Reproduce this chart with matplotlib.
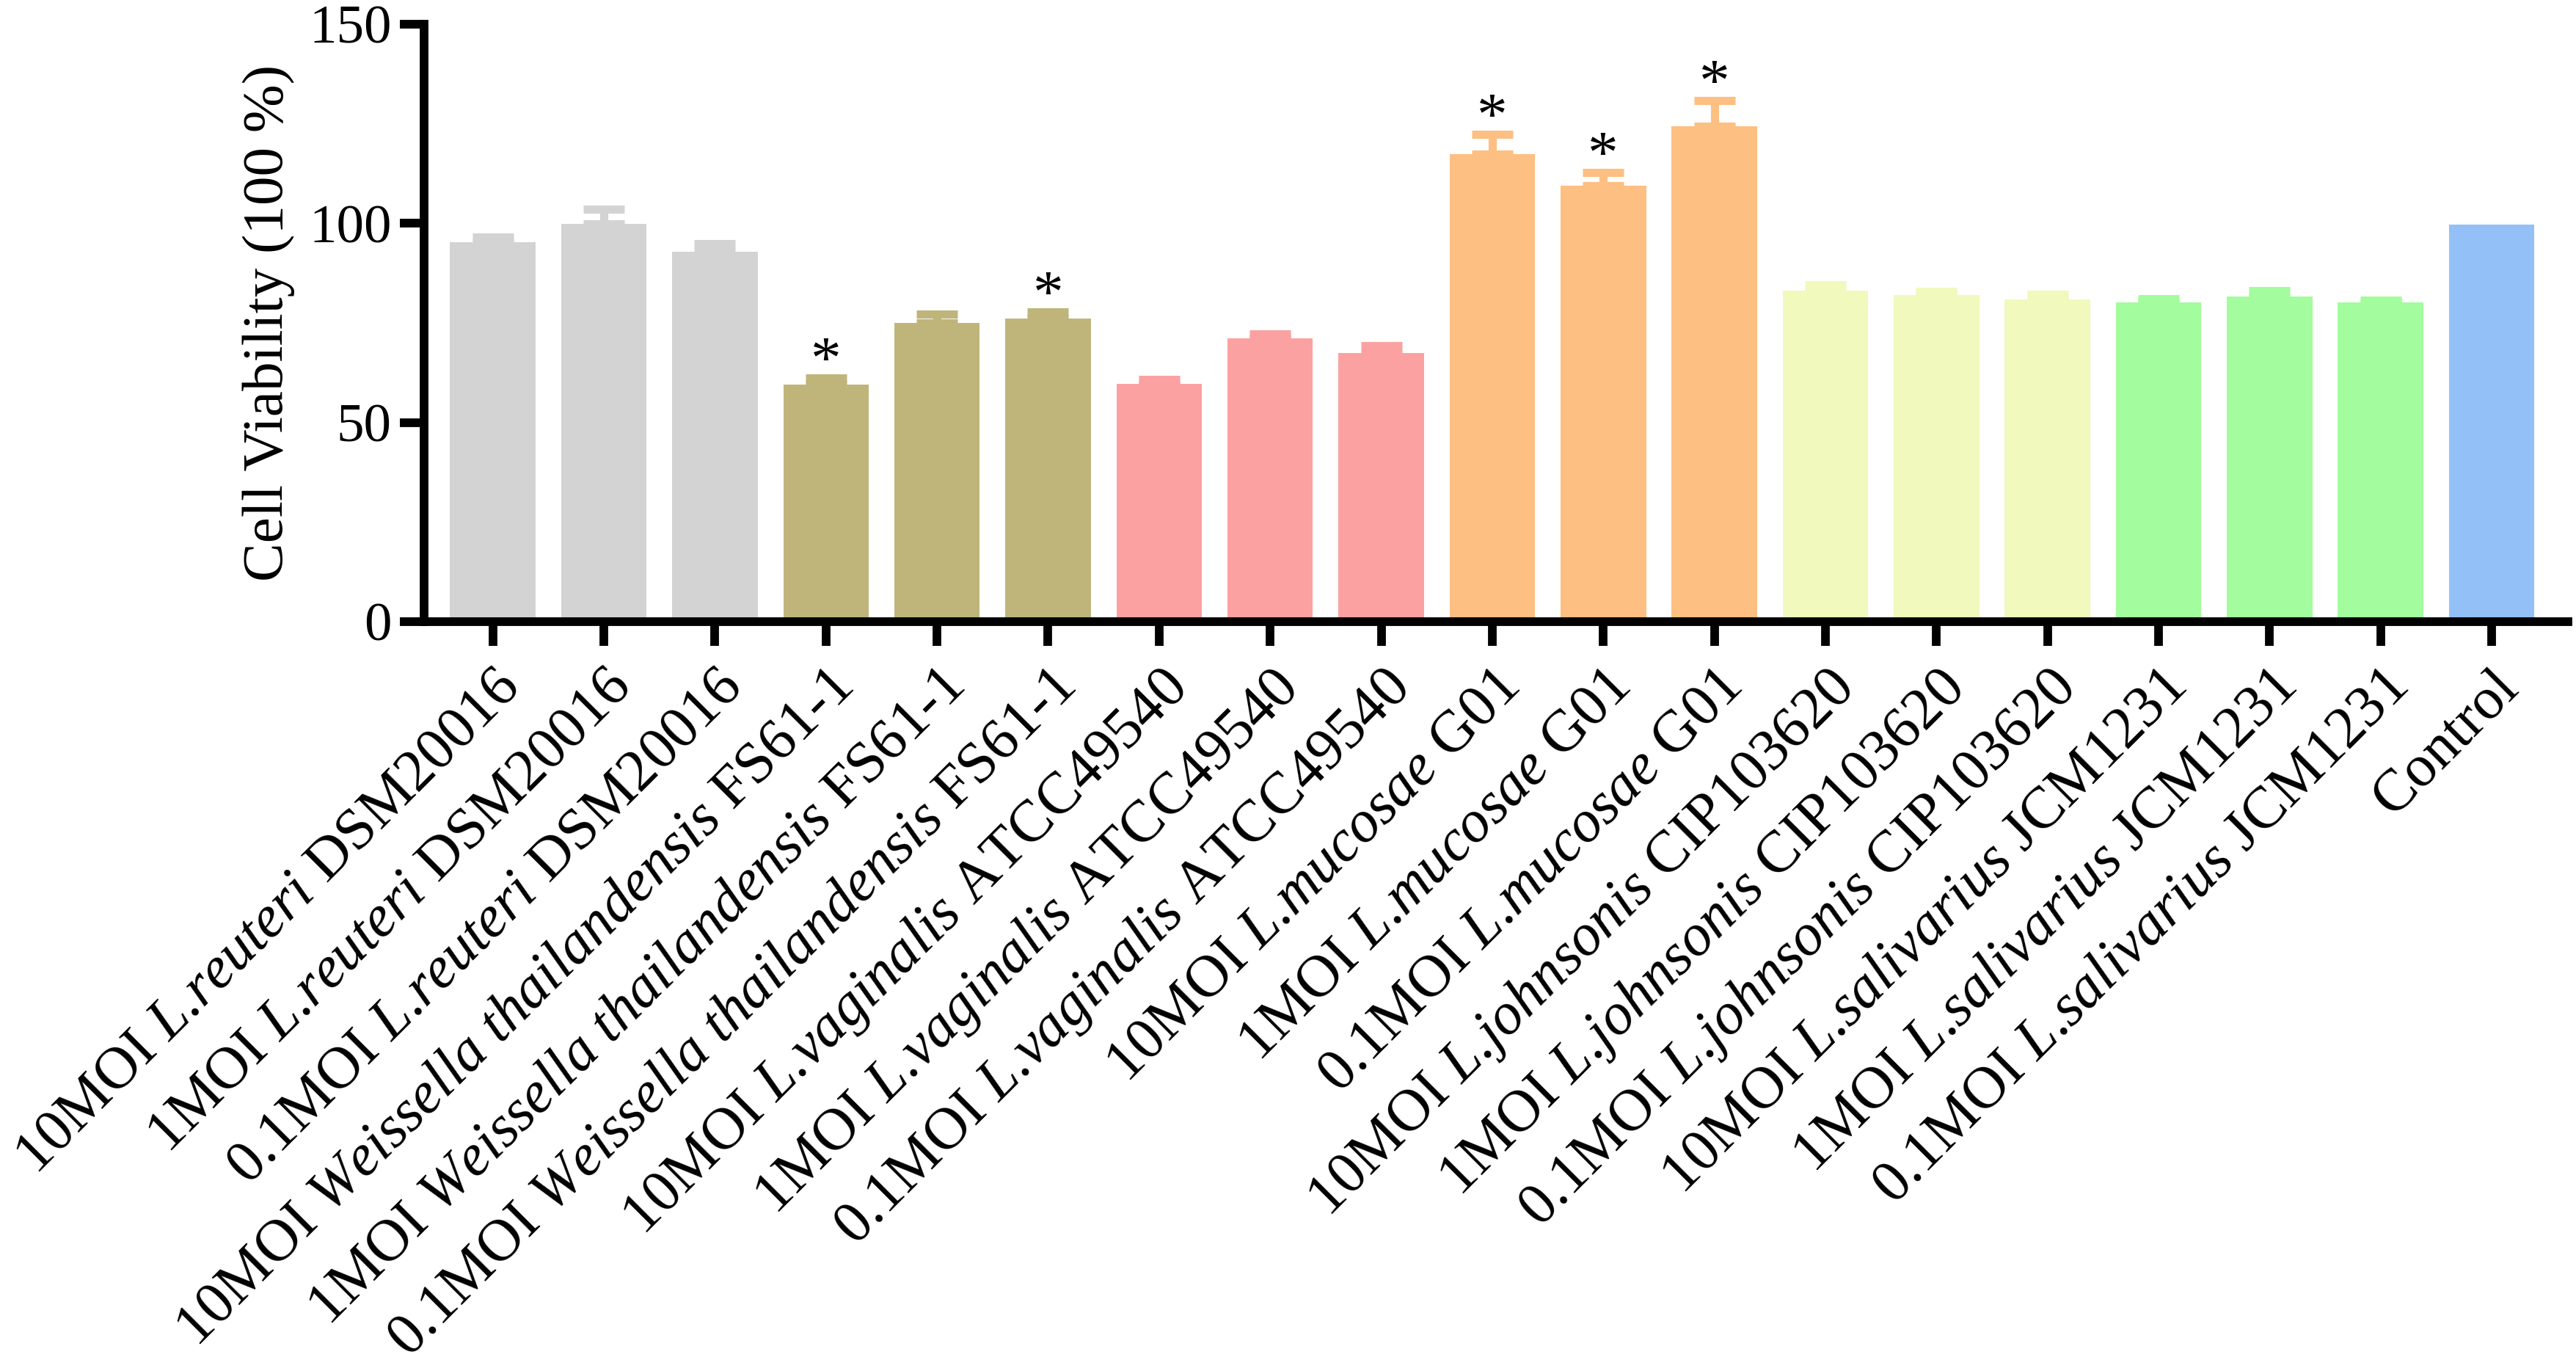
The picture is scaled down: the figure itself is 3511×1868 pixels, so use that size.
import matplotlib
matplotlib.use("Agg")
import matplotlib.pyplot as plt
import numpy as np

plt.rcParams['font.family'] = 'serif'
plt.rcParams['font.serif'] = ['Liberation Serif', 'DejaVu Serif']
plt.rcParams['mathtext.fontset'] = 'custom'
plt.rcParams['mathtext.rm'] = 'Liberation Serif'
plt.rcParams['mathtext.it'] = 'Liberation Serif:italic'

# ---- data ----
doses = ["10MOI", "1MOI", "0.1MOI"] * 6 + [""]
species = (["L.reuteri"] * 3 + ["Weissella thailandensis"] * 3 + ["L.vaginalis"] * 3 +
           ["L.mucosae"] * 3 + ["L.johnsonis"] * 3 + ["L.salivarius"] * 3 + [""])
strains = (["DSM20016"] * 3 + ["FS61-1"] * 3 + ["ATCC49540"] * 3 + ["G01"] * 3 +
           ["CIP103620"] * 3 + ["JCM1231"] * 3 + ["Control"])
values = [95.3, 99.9, 92.8, 59.6, 75.0, 76.1, 59.7, 71.2, 67.4,
          117.4, 109.5, 124.4, 83.1, 82.0, 80.9, 80.1, 81.7, 80.1, 99.7]
errors = [1.2, 3.6, 2.1, 1.6, 2.2, 1.6, 1.1, 1.1, 1.8,
          4.9, 3.3, 6.5, 1.5, 0.9, 1.3, 0.9, 1.4, 0.6, 0.0]
significant = [False, False, False, True, False, True, False, False, False,
               True, True, True, False, False, False, False, False, False, False]
group_colors = ["#D3D3D3", "#BFB57A", "#FCA1A1", "#FDBF82", "#F1F9BD", "#A3FC9D", "#93C1F7"]
group_of_bar = [0, 0, 0, 1, 1, 1, 2, 2, 2, 3, 3, 3, 4, 4, 4, 5, 5, 5, 6]

SERIF = 'Liberation Serif'


def italic(name):
    # italic part without mathtext's extra space after '.'
    parts = name.split(".")
    out = []
    for p in parts:
        out.append(r"$\mathit{" + p.replace(" ", r"\ ") + "}$" if p else "")
    return ".".join(out)


labels = []
for d, s, st in zip(doses, species, strains):
    if s:
        labels.append(d + " " + italic(s) + " " + st)
    else:
        labels.append(st)

colors = [group_colors[g] for g in group_of_bar]
x = np.arange(len(values))

fig = plt.figure(figsize=(35.11, 18.68), dpi=100)
ax = fig.add_axes([0.1646, 0.5466, 0.8324, 0.4357])

ax.bar(x, values, width=0.77, color=colors, zorder=2)
for xi, v, e, c in zip(x, values, errors, colors):
    if e > 0:
        ax.errorbar(xi, v, yerr=[[0], [e]], fmt='none', ecolor=c,
                    elinewidth=8, capsize=20, capthick=8, zorder=1)
for xi, v, e, s in zip(x, values, errors, significant):
    if s:
        ax.text(xi, v + e, "*", ha='center', va='baseline', fontsize=60,
                color='black', family=SERIF)

ax.set_xlim(-0.62, len(values) - 1 + 0.69)
ax.set_ylim(0, 150)
ax.set_yticks([0, 50, 100, 150])
ax.set_yticklabels(["0", "50", "100", "150"], family=SERIF, fontsize=54)
ax.set_xticks(x)
ax.set_xticklabels(labels, rotation=45, ha='right', rotation_mode='anchor',
                   fontsize=58, family=SERIF)
ax.tick_params(axis='y', width=8.5, length=24, pad=8)
ax.tick_params(axis='x', width=8.5, length=24, pad=14)
ax.set_ylabel("Cell Viability (100 %)", fontsize=57, labelpad=14, family=SERIF)

for sp in ['top', 'right']:
    ax.spines[sp].set_visible(False)
for sp in ['left', 'bottom']:
    ax.spines[sp].set_linewidth(8.5)

fig.savefig("out.png", dpi=100, facecolor='white')
